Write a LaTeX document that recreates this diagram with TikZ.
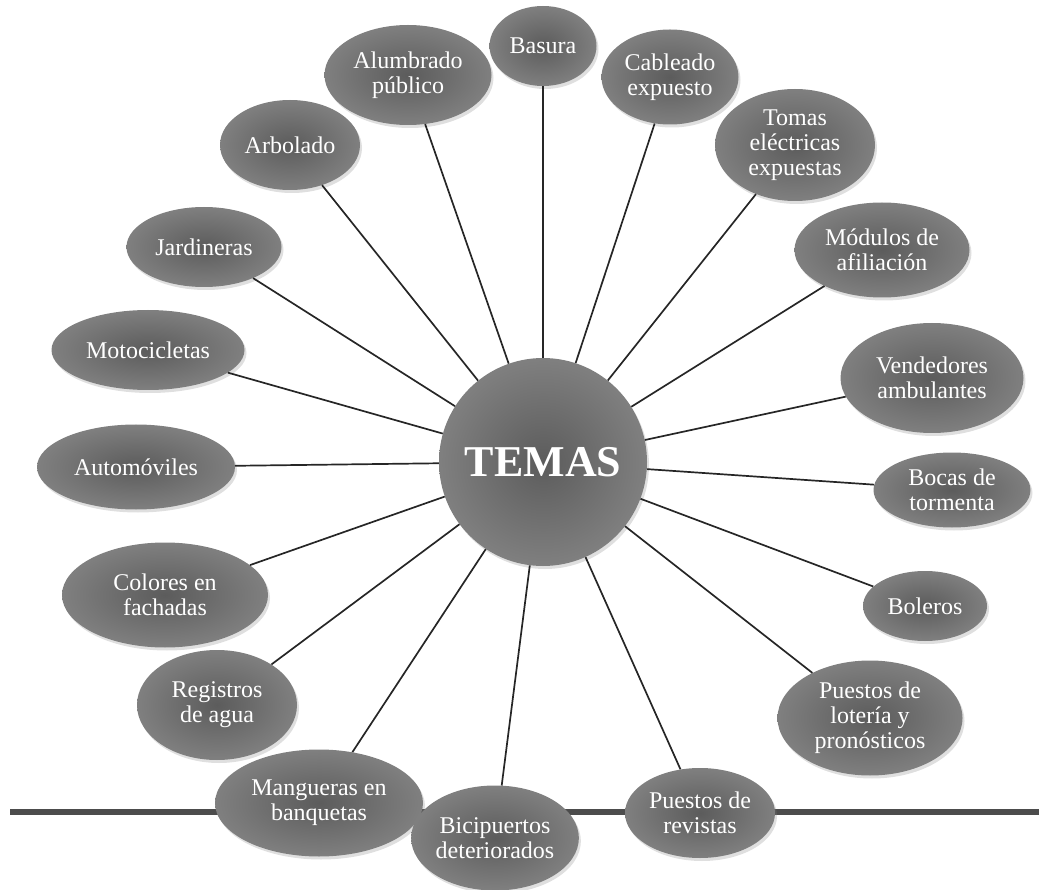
\documentclass[tikz,border=0pt]{standalone}
\usepackage{fontspec}
\setmainfont{Liberation Serif}
\usepackage{tikz}
\usetikzlibrary{calc, shapes, arrows, shadows}

\begin{document}
\begin{tikzpicture}[x=1pt,y=-1pt]
\tikzstyle{tema}=[ellipse,inner sep=0pt,align=center,text=white,
  font=\fontsize{24}{25}\selectfont,inner color=black!64,outer color=black!50,
  drop shadow={opacity=0.25,shadow xshift=2pt,shadow yshift=-3pt}]
\tikzstyle{rayo}=[line width=1.7pt,black!85]
\useasboundingbox (0,0) rectangle (1039,890);
% base line
\coordinate (L_0) at (10,812);
\coordinate (L_1) at (1039,812);
\draw[line width=6pt,black!70] (L_0) -- (L_1);
\node[tema,circle,minimum size=208pt,font=\fontsize{44}{46}\selectfont\bfseries] (T_0) at (543,462) {TEMAS};
\node[tema,minimum width=107pt,minimum height=80pt] (T_1) at (543,46) {Basura};
\node[tema,minimum width=167pt,minimum height=100pt] (T_2) at (408,75) {Alumbrado\\público};
\node[tema,minimum width=137pt,minimum height=95pt] (T_3) at (670,77) {Cableado\\expuesto};
\node[tema,minimum width=160pt,minimum height=112pt] (T_4) at (795,145) {Tomas\\eléctricas\\expuestas};
\node[tema,minimum width=140pt,minimum height=90pt] (T_5) at (290,145) {Arbolado};
\node[tema,minimum width=155pt,minimum height=80pt] (T_6) at (204,247) {Jardineras};
\node[tema,minimum width=175pt,minimum height=95pt] (T_7) at (882,250) {Módulos de\\afiliación};
\node[tema,minimum width=193pt,minimum height=80pt] (T_8) at (148,350) {Motocicletas};
\node[tema,minimum width=183pt,minimum height=110pt] (T_9) at (932,378) {Vendedores\\ambulantes};
\node[tema,minimum width=198pt,minimum height=85pt] (T_10) at (136,467) {Automóviles};
\node[tema,minimum width=157pt,minimum height=75pt] (T_11) at (952,490) {Bocas de\\tormenta};
\node[tema,minimum width=206pt,minimum height=105pt] (T_12) at (165,595) {Colores en\\fachadas};
\node[tema,minimum width=124pt,minimum height=70pt] (T_13) at (925,606) {Boleros};
\node[tema,minimum width=160pt,minimum height=110pt] (T_14) at (217,705) {Registros\\de agua};
\node[tema,minimum width=185pt,minimum height=115pt] (T_15) at (870,718) {Puestos de\\lotería y\\pronósticos};
\node[tema,minimum width=208pt,minimum height=107pt] (T_16) at (319,803) {Mangueras en\\banquetas};
\node[tema,minimum width=155pt,minimum height=105pt] (T_17) at (495,838) {Bicipuertos\\deteriorados};
\node[tema,minimum width=150pt,minimum height=90pt] (T_18) at (700,813) {Puestos de\\revistas};
\draw[rayo] (T_0) -- (T_1) (T_0) -- (T_2) (T_0) -- (T_3) (T_0) -- (T_4) (T_0) -- (T_5)
(T_0) -- (T_6) (T_0) -- (T_7) (T_0) -- (T_8) (T_0) -- (T_9) (T_0) -- (T_10) (T_0) -- (T_11)
(T_0) -- (T_12) (T_0) -- (T_13) (T_0) -- (T_14) (T_0) -- (T_15) (T_0) -- (T_16) (T_0) -- (T_17)
(T_0) -- (T_18);
\end{tikzpicture}
\end{document}
